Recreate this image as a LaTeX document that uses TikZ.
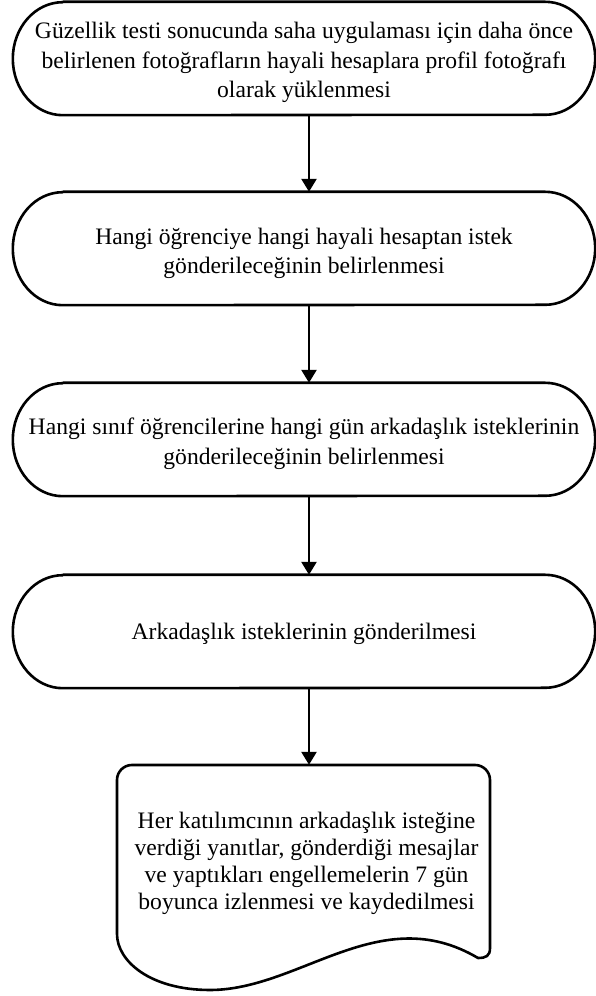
\documentclass[tikz,border=0pt]{standalone}
\usepackage{fontspec}
\setmainfont{Liberation Serif}
\usetikzlibrary{arrows.meta}

% stadium-shaped outline drawn around a named node
\newcommand\terminatoroutline[1]{%
  \draw[outline] ([xshift=50pt]#1.north west) -- ([xshift=-50pt]#1.north east)
    arc[start angle=90, end angle=-90, x radius=50pt, y radius=56.5pt]
    -- ([xshift=50pt]#1.south west)
    arc[start angle=270, end angle=90, x radius=50pt, y radius=56.5pt] -- cycle;}

\begin{document}
\begin{tikzpicture}[x=1pt, y=1pt,
  outline/.style={line width=2.6pt, black, line join=round},
  flowtext/.style={inner sep=0pt, align=center, font=\fontsize{23.6}{29.5}\selectfont},
  termbox/.style={inner sep=0pt, minimum width=582pt, minimum height=113pt},
  docbox/.style={inner sep=0pt, minimum width=373pt, minimum height=194pt},
  flowarrow/.style={line width=2.6pt, -{Triangle[width=15pt, length=13pt]}}]

  \path[fill=white, use as bounding box] (0,0) rectangle (596,996);

  % process step frames
  \node[termbox] (b1) at (304,937.5) {};
  \node[termbox] (b2) at (304,747.5) {};
  \node[termbox] (b3) at (304,556.5) {};
  \node[termbox] (b4) at (304,364.5) {};
  \node[docbox]  (b5) at (303.5,134) {};

  % step labels
  \node[flowtext] (t1) at ([yshift=-4pt]b1.center) {Güzellik testi sonucunda saha uygulaması için daha önce\\
    belirlenen fotoğrafların hayali hesaplara profil fotoğrafı\\ olarak yüklenmesi};
  \node[flowtext] (t2) at ([yshift=-5pt]b2.center) {Hangi öğrenciye hangi hayali hesaptan istek\\
    gönderileceğinin belirlenmesi};
  \node[flowtext] (t3) at ([yshift=-4pt]b3.center) {Hangi sınıf öğrencilerine hangi gün arkadaşlık isteklerinin\\
    gönderileceğinin belirlenmesi};
  \node[flowtext] (t4) at ([yshift=-2pt]b4.center) {Arkadaşlık isteklerinin gönderilmesi};
  \node[flowtext, font=\fontsize{23.6}{27}\selectfont] (t5) at ([xshift=3pt,yshift=-1pt]b5.center)
    {Her katılımcının arkadaşlık isteğine\\
    verdiği yanıtlar, gönderdiği mesajlar\\ ve yaptıkları engellemelerin 7 gün\\
    boyunca izlenmesi ve kaydedilmesi};

  \terminatoroutline{b1}
  \terminatoroutline{b2}
  \terminatoroutline{b3}
  \terminatoroutline{b4}

  % document outline with wavy bottom
  \draw[outline] (117,62) -- (117,216) arc[start angle=180, end angle=90, radius=15pt]
    -- (475,231) arc[start angle=90, end angle=0, radius=15pt]
    -- (490,48) .. controls (490,40) and (486,38) .. (478,38)
    .. controls (380,96) and (300,6) .. (210,6)
    .. controls (150,6) and (117,35) .. cycle;

  % connectors
  \draw[flowarrow] ([xshift=5pt]b1.south) -- ([xshift=5pt]b2.north);
  \draw[flowarrow] ([xshift=5pt]b2.south) -- ([xshift=5pt]b3.north);
  \draw[flowarrow] ([xshift=5pt]b3.south) -- ([xshift=5pt]b4.north);
  \draw[flowarrow] ([xshift=5pt]b4.south) -- ([xshift=5.5pt]b5.north);
\end{tikzpicture}
\end{document}
